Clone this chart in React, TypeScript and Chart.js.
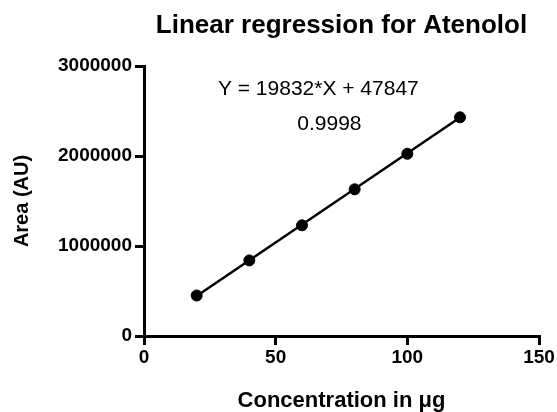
import React, { useEffect, useRef } from 'react';
import { Chart, registerables } from 'chart.js';

Chart.register(...registerables);

// ---- data ----
const concentrations = [20, 40, 60, 80, 100, 120];
const areas = [450000, 840000, 1230000, 1630000, 2025000, 2430000];
const fitX = [20, 120];
const fitY = [444487, 2427687];
const xTicks = [0, 50, 100, 150];
const yTicks = [0, 1000000, 2000000, 3000000];
const titleText = 'Linear regression for Atenolol';
const xTitle = 'Concentration in μg';
const yTitle = 'Area (AU)';
const equationText = 'Y = 19832*X + 47847';
const r2Text = '0.9998';
const equationPos = [66.2, 2678000];
const r2Pos = [70.4, 2289000];

const FONT = '"Liberation Sans", Arial, Helvetica, sans-serif';

const annotationPlugin = {
  id: 'regressionText',
  afterDraw(chart: any) {
    const { ctx, scales } = chart;
    const xs = scales.x;
    const ys = scales.y;
    ctx.save();
    ctx.fillStyle = '#000';
    ctx.font = `normal 21px ${FONT}`;
    ctx.textAlign = 'center';
    ctx.textBaseline = 'alphabetic';
    ctx.fillText(equationText, xs.getPixelForValue(equationPos[0]), ys.getPixelForValue(equationPos[1]));
    ctx.fillText(r2Text, xs.getPixelForValue(r2Pos[0]), ys.getPixelForValue(r2Pos[1]));
    ctx.restore();
  },
};

export default function App() {
  const canvasRef = useRef<HTMLCanvasElement | null>(null);

  useEffect(() => {
    document.body.style.margin = '0';
    const canvas = canvasRef.current;
    if (!canvas) return;
    const chart = new Chart(canvas, {
      type: 'scatter',
      data: {
        datasets: [
          {
            type: 'line',
            label: 'fit',
            data: fitX.map((x, i) => ({ x, y: fitY[i] })),
            borderColor: '#000',
            borderWidth: 2.5,
            pointRadius: 0,
            fill: false,
          } as any,
          {
            label: 'Atenolol',
            data: concentrations.map((x, i) => ({ x, y: areas[i] })),
            backgroundColor: '#000',
            borderColor: '#000',
            pointRadius: 5.5,
            pointHoverRadius: 5.5,
          },
        ],
      },
      options: {
        responsive: false,
        animation: false,
        events: [],
        layout: { padding: { left: 0, right: 18, top: 0, bottom: 0 } },
        plugins: {
          legend: { display: false },
          tooltip: { enabled: false },
          title: {
            display: true,
            text: titleText,
            fullSize: false,
            color: '#000',
            font: { family: FONT, size: 26, weight: 'bold', lineHeight: 1.2 },
            padding: { top: 10.4, bottom: 24.4 },
          },
        },
        scales: {
          x: {
            type: 'linear',
            min: 0,
            max: 150,
            afterBuildTicks: (scale: any) => {
              scale.ticks = xTicks.map((v) => ({ value: v }));
            },
            afterFit: (scale: any) => {
              scale.height = 76;
            },
            ticks: {
              color: '#000',
              font: { family: FONT, size: 19, weight: 'bold' },
              padding: 1.5,
              maxRotation: 0,
              callback: (v: any) => String(v),
            },
            grid: {
              display: true,
              drawOnChartArea: false,
              drawTicks: true,
              tickLength: 9,
              color: '#000',
              lineWidth: 3,
            },
            border: { display: true, color: '#000', width: 3 },
            title: {
              display: true,
              text: xTitle,
              color: '#000',
              font: { family: FONT, size: 22, weight: 'bold', lineHeight: 1 },
              padding: { top: 0, bottom: 0.4 },
            },
          },
          y: {
            type: 'linear',
            min: 0,
            max: 3000000,
            afterBuildTicks: (scale: any) => {
              scale.ticks = yTicks.map((v) => ({ value: v }));
            },
            afterFit: (scale: any) => {
              scale.width = 144;
            },
            ticks: {
              color: '#000',
              font: { family: FONT, size: 19, weight: 'bold' },
              padding: 3,
              callback: (v: any) => String(v),
            },
            grid: {
              display: true,
              drawOnChartArea: false,
              drawTicks: true,
              tickLength: 9,
              color: '#000',
              lineWidth: 3,
            },
            border: { display: true, color: '#000', width: 3 },
            title: {
              display: true,
              text: yTitle,
              color: '#000',
              font: { family: FONT, size: 20, weight: 'bold', lineHeight: 1.2 },
              padding: { top: 10, bottom: 0 },
            },
          },
        },
      },
      plugins: [annotationPlugin],
    });
    return () => chart.destroy();
  }, []);

  return (
    <div style={{ width: 557, height: 412, background: '#fff' }}>
      <canvas ref={canvasRef} width={557} height={412} style={{ display: 'block' }} />
    </div>
  );
}
